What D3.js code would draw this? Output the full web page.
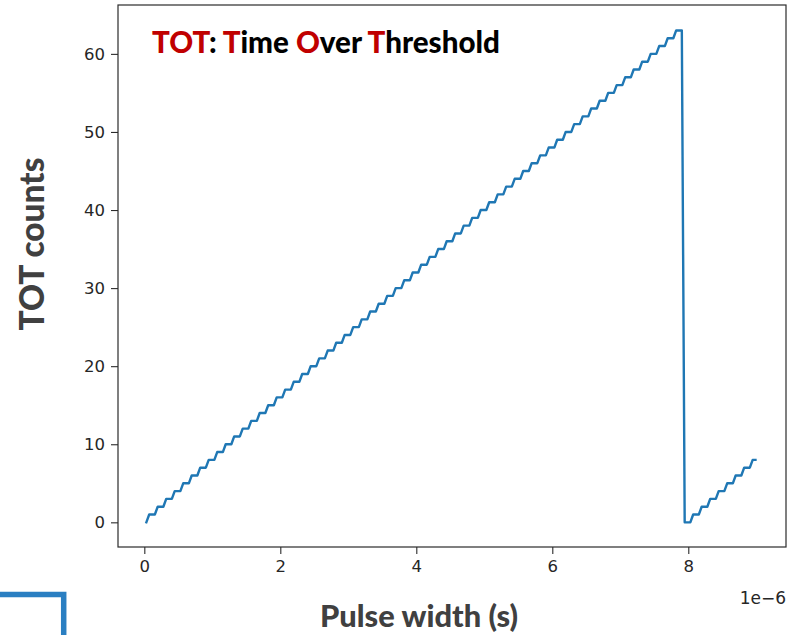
<!DOCTYPE html>
<html>
<head>
<meta charset="utf-8">
<script src="https://cdn.jsdelivr.net/npm/d3@7"></script>
<style>
  html, body { margin: 0; padding: 0; background: #ffffff; }
  svg { display: block; }
  text { white-space: pre; }
</style>
</head>
<body>
<svg id="chart" width="792" height="635"></svg>
<script>
// Pulse widths of the test pulses, in nanoseconds
const pulseWidthNs = [
  30, 72, 113,   155, 197, 238,   280, 322, 363,   405, 447, 488,
  530, 572, 613,   655, 697, 738,   780, 822, 863,   905, 947, 988,
  1030, 1072, 1113,   1155, 1197, 1238,   1280, 1322, 1363,   1405, 1447, 1488,
  1530, 1572, 1613,   1655, 1697, 1738,   1780, 1822, 1863,   1905, 1947, 1988,
  2030, 2072, 2113,   2155, 2197, 2238,   2280, 2322, 2363,   2405, 2447, 2488,
  2530, 2572, 2613,   2655, 2697, 2738,   2780, 2822, 2863,   2905, 2947, 2988,
  3030, 3072, 3113,   3155, 3197, 3238,   3280, 3322, 3363,   3405, 3447, 3488,
  3530, 3572, 3613,   3655, 3697, 3738,   3780, 3822, 3863,   3905, 3947, 3988,
  4030, 4072, 4113,   4155, 4197, 4238,   4280, 4322, 4363,   4405, 4447, 4488,
  4530, 4572, 4613,   4655, 4697, 4738,   4780, 4822, 4863,   4905, 4947, 4988,
  5030, 5072, 5113,   5155, 5197, 5238,   5280, 5322, 5363,   5405, 5447, 5488,
  5530, 5572, 5613,   5655, 5697, 5738,   5780, 5822, 5863,   5905, 5947, 5988,
  6030, 6072, 6113,   6155, 6197, 6238,   6280, 6322, 6363,   6405, 6447, 6488,
  6530, 6572, 6613,   6655, 6697, 6738,   6780, 6822, 6863,   6905, 6947, 6988,
  7030, 7072, 7113,   7155, 7197, 7238,   7280, 7322, 7363,   7405, 7447, 7488,
  7530, 7572, 7613,   7655, 7697, 7738,   7780, 7822, 7863,   7905, 7947, 7988,
  8030, 8072, 8113,   8155, 8197, 8238,   8280, 8322, 8363,   8405, 8447, 8488,
  8530, 8572, 8613,   8655, 8697, 8738,   8780, 8822, 8863,   8905, 8947, 8988
];

// 6-bit TOT counter value read out for each pulse
const totCounts = [
  0, 1, 1,   1, 2, 2,   2, 3, 3,   3, 4, 4,
  4, 5, 5,   5, 6, 6,   6, 7, 7,   7, 8, 8,
  8, 9, 9,   9, 10, 10,   10, 11, 11,   11, 12, 12,
  12, 13, 13,   13, 14, 14,   14, 15, 15,   15, 16, 16,
  16, 17, 17,   17, 18, 18,   18, 19, 19,   19, 20, 20,
  20, 21, 21,   21, 22, 22,   22, 23, 23,   23, 24, 24,
  24, 25, 25,   25, 26, 26,   26, 27, 27,   27, 28, 28,
  28, 29, 29,   29, 30, 30,   30, 31, 31,   31, 32, 32,
  32, 33, 33,   33, 34, 34,   34, 35, 35,   35, 36, 36,
  36, 37, 37,   37, 38, 38,   38, 39, 39,   39, 40, 40,
  40, 41, 41,   41, 42, 42,   42, 43, 43,   43, 44, 44,
  44, 45, 45,   45, 46, 46,   46, 47, 47,   47, 48, 48,
  48, 49, 49,   49, 50, 50,   50, 51, 51,   51, 52, 52,
  52, 53, 53,   53, 54, 54,   54, 55, 55,   55, 56, 56,
  56, 57, 57,   57, 58, 58,   58, 59, 59,   59, 60, 60,
  60, 61, 61,   61, 62, 62,   62, 63, 63,   63, 0, 0,
  0, 1, 1,   1, 2, 2,   2, 3, 3,   3, 4, 4,
  4, 5, 5,   5, 6, 6,   6, 7, 7,   7, 8, 8
];

const xTicks = [0, 2, 4, 6, 8];          // in units of 1e-6 s
const yTicks = [0, 10, 20, 30, 40, 50, 60];
const xOffsetLabel = "1e\u22126";
const xLabel = "Pulse width (s)";
const yLabel = "TOT counts";
const titleParts = [
  { text: "TOT", accent: true },
  { text: ": ", accent: false },
  { text: "T", accent: true },
  { text: "ime ", accent: false },
  { text: "O", accent: true },
  { text: "ver ", accent: false },
  { text: "T", accent: true },
  { text: "hreshold", accent: false }
];

const svg = d3.select("#chart");

// Plot frame
const frame = { left: 118, right: 786, top: 5, bottom: 547 };

const x = d3.scaleLinear().domain([-0.387, 9.437]).range([frame.left, frame.right]);
const y = d3.scaleLinear().domain([-3.16, 66.26]).range([frame.bottom, frame.top]);

const tickFont = "'DejaVu Sans', sans-serif";
const tickColor = "#262626";
const spineColor = "#2b2b2b";

// Axes
const gx = svg.append("g")
  .attr("transform", `translate(0,${frame.bottom})`)
  .call(d3.axisBottom(x).tickValues(xTicks).tickFormat(d3.format("d")).tickSize(7).tickPadding(6));
const gy = svg.append("g")
  .attr("transform", `translate(${frame.left},0)`)
  .call(d3.axisLeft(y).tickValues(yTicks).tickFormat(d3.format("d")).tickSize(7).tickPadding(6));

[gx, gy].forEach(g => {
  g.select(".domain").remove();
  g.selectAll(".tick line").attr("stroke", spineColor).attr("stroke-width", 1.1);
  g.selectAll(".tick text")
    .attr("fill", tickColor)
    .style("font-family", tickFont)
    .style("font-size", "16.5px");
});

// Data line
const data = pulseWidthNs.map((ns, i) => ({ t: ns / 1000, c: totCounts[i] }));
svg.append("path")
  .datum(data)
  .attr("fill", "none")
  .attr("stroke", "#1f77b4")
  .attr("stroke-width", 2.4)
  .attr("stroke-linejoin", "round")
  .attr("stroke-linecap", "square")
  .attr("d", d3.line().x(d => x(d.t)).y(d => y(d.c)));

// Frame spines
svg.append("rect")
  .attr("x", frame.left).attr("y", frame.top)
  .attr("width", frame.right - frame.left)
  .attr("height", frame.bottom - frame.top)
  .attr("fill", "none")
  .attr("stroke", spineColor)
  .attr("stroke-width", 1.2);

// Scale offset text under the x axis
svg.append("text")
  .attr("x", frame.right).attr("y", 604)
  .attr("text-anchor", "end")
  .attr("fill", tickColor)
  .style("font-family", tickFont)
  .style("font-size", "17px")
  .text(xOffsetLabel);

// Fit a text element to a given width
function fitWidth(sel, target) {
  const fs = parseFloat(sel.attr("font-size"));
  const w = sel.node().getBBox().width;
  if (w > 0) sel.attr("font-size", fs * target / w);
}

const labelFont = "Lato, 'Open Sans', sans-serif";
const labelColor = "#404040";

// Axis titles
const xl = svg.append("text")
  .attr("x", 419).attr("y", 627)
  .attr("text-anchor", "middle")
  .attr("fill", labelColor)
  .attr("font-family", labelFont)
  .attr("font-weight", 900)
  .attr("font-size", 28)
  .text(xLabel);
fitWidth(xl, 198);

const yl = svg.append("text")
  .attr("transform", "translate(44,244) rotate(-90)")
  .attr("text-anchor", "middle")
  .attr("fill", labelColor)
  .attr("font-family", labelFont)
  .attr("font-weight", 900)
  .attr("font-size", 32)
  .text(yLabel);
fitWidth(yl, 173);

// Title inside the plot
const title = svg.append("text")
  .attr("x", 152).attr("y", 52.5)
  .attr("font-family", labelFont)
  .attr("font-weight", 900)
  .attr("font-size", 30);
title.selectAll("tspan")
  .data(titleParts)
  .join("tspan")
  .attr("fill", d => d.accent ? "#c00000" : "#000000")
  .text(d => d.text);
fitWidth(title, 348);

// Blue corner bracket
svg.append("path")
  .attr("d", "M0,594.5 H63.7 V635")
  .attr("fill", "none")
  .attr("stroke", "#2a7fc2")
  .attr("stroke-width", 5.5)
  .attr("stroke-linejoin", "miter");
</script>
</body>
</html>
